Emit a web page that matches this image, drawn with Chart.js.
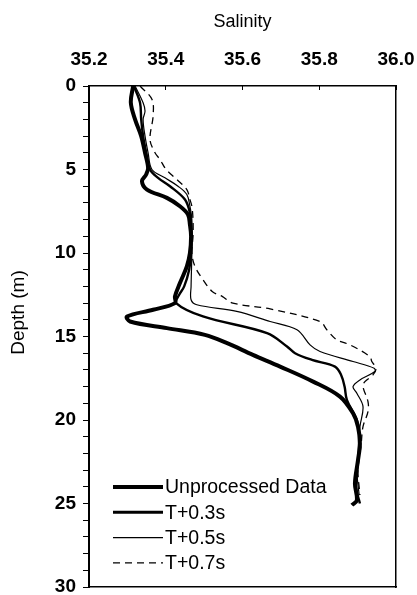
<!DOCTYPE html>
<html>
<head>
<meta charset="utf-8">
<script src="https://cdn.jsdelivr.net/npm/chart.js@4.4.1/dist/chart.umd.min.js"></script>
<style>
  html, body { margin: 0; padding: 0; background: #fff; }
  #wrap { width: 417px; height: 595px; }
</style>
</head>
<body>
<div id="wrap"><canvas id="salinityChart"></canvas></div>
<script>
// 轴刻度
const salinityTicks = [35.2, 35.4, 35.6, 35.8, 36.0];
const depthTicks = [0, 5, 10, 15, 20, 25, 30];

// 各曲线: 深度 (m) 与盐度
const rawDepth = [0, 1, 2, 3, 4, 4.9, 5.3, 5.7, 6.2, 6.7, 7.2, 7.7, 8.3, 9, 10, 10.8, 11.8, 12.6, 13.0, 13.4,
    13.8, 14.1, 14.5, 14.9, 15.4, 16.1, 16.8, 17.7, 18.6, 19.6, 20.4, 21.4, 22.4, 23.8, 24.8, 25.1];
const rawSal = [35.315, 35.309, 35.320, 35.336, 35.346, 35.354, 35.349, 35.338, 35.351, 35.403, 35.437, 35.458, 35.463, 35.466, 35.463, 35.455, 35.437, 35.424, 35.424, 35.367,
    35.299, 35.307, 35.403, 35.502, 35.560, 35.627, 35.698, 35.784, 35.854, 35.888, 35.901, 35.906, 35.901, 35.893, 35.898, 35.885];

const t03Depth = [0, 1, 2, 3, 4, 5, 5.5, 6, 6.8, 7.6, 8.5, 10, 11, 12, 12.5, 13, 13.8, 14.8, 15.6, 16.0,
    16.4, 16.8, 17.3, 18.0, 18.8, 20, 21, 22.5, 24, 25];
const t03Sal = [35.317, 35.333, 35.336, 35.341, 35.349, 35.359, 35.380, 35.411, 35.450, 35.463, 35.466, 35.466, 35.461, 35.448, 35.435, 35.427, 35.497, 35.664, 35.716, 35.737,
    35.781, 35.841, 35.857, 35.866, 35.872, 35.898, 35.904, 35.901, 35.896, 35.906];

const t05Depth = [0, 1, 1.5, 2, 3, 4, 5, 5.5, 6, 6.5, 7.2, 8, 10, 12, 12.8, 13.1, 13.5, 14.1, 14.6, 15.5,
    15.9, 16.5, 16.9, 17.1, 17.6, 18.0, 18.4, 19.2, 20.4, 21.5, 23, 24.5];
const t05Sal = [35.320, 35.341, 35.346, 35.341, 35.346, 35.354, 35.364, 35.398, 35.432, 35.455, 35.463, 35.468, 35.468, 35.466, 35.466, 35.481, 35.585, 35.672, 35.742, 35.776,
    35.802, 35.888, 35.943, 35.945, 35.906, 35.888, 35.898, 35.914, 35.906, 35.904, 35.898, 35.904];

const t07Depth = [0, 0.8, 1.8, 3.2, 4.0, 4.4, 5.0, 5.6, 6.2, 6.8, 7.2, 8, 9, 10, 10.8, 11.6, 12.3, 12.6, 13.0, 13.35,
    14.1, 14.6, 15.2, 15.5, 16.2, 16.5, 16.9, 17.3, 17.7, 18.0, 18.9, 19.5, 20.4, 21.5, 23, 24.5];
const t07Sal = [35.333, 35.364, 35.367, 35.359, 35.372, 35.385, 35.401, 35.429, 35.455, 35.463, 35.468, 35.471, 35.471, 35.468, 35.476, 35.497, 35.521, 35.547, 35.575, 35.672,
    35.802, 35.820, 35.846, 35.880, 35.932, 35.937, 35.948, 35.940, 35.919, 35.914, 35.927, 35.927, 35.914, 35.909, 35.901, 35.906];

const FONT = '"Liberation Sans", Arial, sans-serif';

function toPoints(sal, depth) {
    return sal.map((s, i) => ({ x: s, y: depth[i] }));
}

// 去掉刻度标签带来的额外留白
function noPad(s) {
    s.paddingLeft = 0;
    s.paddingRight = 0;
    s.paddingTop = 0;
    s.paddingBottom = 0;
}

// 图内图例
const insideLegend = {
    id: 'insideLegend',
    afterDatasetsDraw(chart) {
        const { ctx, chartArea } = chart;
        const x0 = chartArea.left + 24;
        const x1 = x0 + 50;
        chart.data.datasets.forEach((ds, i) => {
            const y = chartArea.bottom - 100 + i * 25.3;
            ctx.save();
            ctx.strokeStyle = '#000';
            ctx.lineWidth = ds.legendWidth;
            ctx.setLineDash(ds.borderDash || []);
            ctx.beginPath();
            ctx.moveTo(x0, y);
            ctx.lineTo(x1, y);
            ctx.stroke();
            ctx.setLineDash([]);
            ctx.fillStyle = '#000';
            ctx.font = '19.5px ' + FONT;
            ctx.textBaseline = 'middle';
            ctx.fillText(ds.label, x1 + 2, y + 1);
            ctx.restore();
        });
    }
};

// 纵轴标题
const depthTitle = {
    id: 'depthTitle',
    afterDraw(chart) {
        const { ctx, chartArea } = chart;
        ctx.save();
        ctx.translate(19, (chartArea.top + chartArea.bottom) / 2 - 24);
        ctx.rotate(-Math.PI / 2);
        ctx.fillStyle = '#000';
        ctx.font = '19px ' + FONT;
        ctx.textAlign = 'center';
        ctx.textBaseline = 'middle';
        ctx.fillText('Depth (m)', 0, 0);
        ctx.restore();
    }
};

const sMin = salinityTicks[0];
const sMax = salinityTicks[salinityTicks.length - 1];
const dMin = depthTicks[0];
const dMax = depthTicks[depthTicks.length - 1];

const ctx = document.getElementById('salinityChart').getContext('2d');
new Chart(ctx, {
    type: 'line',
    data: {
        datasets: [
            { label: 'Unprocessed Data', data: toPoints(rawSal, rawDepth), borderColor: '#000', borderWidth: 4, legendWidth: 4 },
            { label: 'T+0.3s', data: toPoints(t03Sal, t03Depth), borderColor: '#000', borderWidth: 2.4, legendWidth: 3 },
            { label: 'T+0.5s', data: toPoints(t05Sal, t05Depth), borderColor: '#000', borderWidth: 1.2, legendWidth: 1.3 },
            { label: 'T+0.7s', data: toPoints(t07Sal, t07Depth), borderColor: '#000', borderWidth: 1.3, legendWidth: 1.3, borderDash: [7, 5] }
        ]
    },
    options: {
        responsive: true,
        maintainAspectRatio: false,
        animation: false,
        layout: { padding: 0 },
        elements: {
            point: { radius: 0 },
            line: { tension: 0.35, fill: false }
        },
        plugins: {
            legend: { display: false },
            tooltip: { enabled: false }
        },
        scales: {
            x: {
                type: 'linear',
                position: 'top',
                min: sMin,
                max: sMax,
                afterBuildTicks: s => { s.ticks = salinityTicks.map(v => ({ value: v })); },
                afterFit: s => { s.height = 86; noPad(s); },
                ticks: {
                    padding: 19,
                    color: '#000',
                    font: { family: FONT, size: 19, weight: 'bold' },
                    maxRotation: 0,
                    callback: v => v.toFixed(1)
                },
                grid: { drawOnChartArea: false, tickLength: -4, color: '#000', lineWidth: 1 },
                border: { display: true, color: '#000', width: 1.5 },
                title: {
                    display: true,
                    text: 'Salinity',
                    color: '#000',
                    font: { family: FONT, size: 18 },
                    padding: { top: 11, bottom: 0 }
                }
            },
            y: {
                type: 'linear',
                position: 'left',
                reverse: true,
                min: dMin,
                max: dMax,
                afterBuildTicks: s => {
                    s.ticks = [];
                    for (let v = dMin; v <= dMax; v++) s.ticks.push({ value: v });
                },
                afterFit: s => { s.width = 89; noPad(s); },
                ticks: {
                    padding: 7,
                    autoSkip: false,
                    color: '#000',
                    font: { family: FONT, size: 19, weight: 'bold' },
                    callback: v => depthTicks.includes(v) ? String(v) : ''
                },
                grid: { drawOnChartArea: false, tickLength: 6, color: '#000', lineWidth: 1 },
                border: { display: true, color: '#000', width: 2 }
            },
            xBox: {
                type: 'linear',
                position: 'bottom',
                min: sMin,
                max: sMax,
                afterFit: s => { s.height = 8; noPad(s); },
                ticks: { display: false },
                grid: { drawOnChartArea: false, drawTicks: false },
                border: { display: true, color: '#000', width: 1.5 }
            },
            yBox: {
                type: 'linear',
                position: 'right',
                min: dMin,
                max: dMax,
                afterFit: s => { s.width = 21; noPad(s); },
                ticks: { display: false },
                grid: { drawOnChartArea: false, drawTicks: false },
                border: { display: true, color: '#000', width: 1.5 }
            }
        }
    },
    plugins: [insideLegend, depthTitle]
});
</script>
</body>
</html>
